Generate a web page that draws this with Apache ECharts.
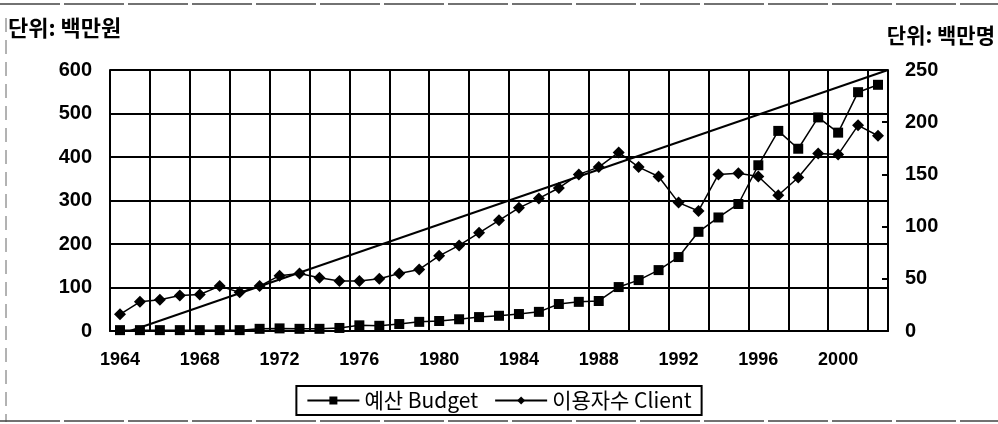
<!DOCTYPE html>
<html>
<head>
<meta charset="utf-8">
<script src="https://cdn.jsdelivr.net/npm/echarts@6/dist/echarts.min.js"></script>
<style>
html, body { margin: 0; padding: 0; background: #fff; }
#chart { width: 998px; height: 424px; }
</style>
</head>
<body>
<div id="chart"></div>
<script>
// years on the category axis
var years = [];
for (var y = 1964; y <= 2002; y++) years.push(String(y));

// 예산 Budget (left axis, 백만원)
var budget = [2, 2, 2, 2, 2, 2, 2, 5, 6, 5, 5, 7, 13, 12, 16, 21, 23, 27, 32, 35,
	39, 44, 62, 67, 69, 101, 117, 140, 170, 228, 261, 292, 381, 460, 419, 491, 456, 549, 566];

// 이용자수 Client (right axis, 백만명)
var client = [16, 28, 30, 34, 35, 43, 37, 43, 53, 55, 51, 48, 48, 50, 55, 59, 72, 82, 94, 106,
	118, 127, 137, 150, 157, 171, 157, 148, 123, 115, 150, 151, 148, 130, 147, 170, 169, 197, 187];

// straight trend line (year, left-axis value)
var trendLine = [[1964.5, 0], [2002.5, 600]];

var leftTicks = { min: 0, max: 600, interval: 100 };
var rightTicks = { min: 0, max: 250, interval: 50 };

var numFont = 'Liberation Sans';
var korFont = 'Noto Sans CJK KR';

var chart = echarts.init(document.getElementById('chart'));
chart.setOption({
	animation: false,
	backgroundColor: '#fff',
	grid: { left: 110, right: 110, top: 70, bottom: 93 },
	graphic: [
		{ type: 'line', shape: { x1: 0, y1: 4, x2: 998, y2: 4 }, style: { stroke: '#444', lineWidth: 1.5, lineDash: [60, 4] } },
		{ type: 'line', shape: { x1: 6, y1: 18, x2: 6, y2: 422 }, style: { stroke: '#666', lineWidth: 1, lineDash: [14, 8] } },
		{ type: 'line', shape: { x1: 0, y1: 421, x2: 998, y2: 421 }, style: { stroke: '#444', lineWidth: 1.5, lineDash: [60, 4] } },
		{ type: 'text', left: 8, top: 17, style: { text: '단위: 백만원', font: 'bold 22px "Noto Sans CJK KR"', fill: '#000' } },
		{ type: 'text', right: 3, top: 25, style: { text: '단위: 백만명', font: 'bold 21px "Noto Sans CJK KR"', fill: '#000' } }
	],
	legend: {
		data: ['예산 Budget', '이용자수 Client'],
		bottom: 9,
		left: 'center',
		itemWidth: 52,
		itemHeight: 10,
		itemGap: 16,
		padding: [4, 10],
		borderColor: '#000',
		borderWidth: 2,
		textStyle: { fontFamily: korFont, fontSize: 21, color: '#000' }
	},
	xAxis: [{
		type: 'category',
		data: years,
		boundaryGap: true,
		axisLine: { lineStyle: { color: '#000', width: 2 } },
		axisTick: { show: false },
		axisLabel: { interval: 3, color: '#000', fontFamily: numFont, fontSize: 18, fontWeight: 'bold', margin: 20 },
		splitLine: { show: true, interval: 1, lineStyle: { color: '#000', width: 2 } }
	}, {
		type: 'value',
		min: 1963.5,
		max: 2002.5,
		show: false
	}],
	yAxis: [{
		type: 'value',
		min: leftTicks.min,
		max: leftTicks.max,
		interval: leftTicks.interval,
		axisLine: { show: true, lineStyle: { color: '#000', width: 2 } },
		axisTick: { show: false },
		axisLabel: { color: '#000', fontFamily: numFont, fontSize: 20, fontWeight: 'bold', margin: 18 },
		splitLine: { show: true, lineStyle: { color: '#000', width: 2 } }
	}, {
		type: 'value',
		min: rightTicks.min,
		max: rightTicks.max,
		interval: rightTicks.interval,
		position: 'right',
		axisLine: { show: true, lineStyle: { color: '#000', width: 2 } },
		axisTick: { show: true, inside: true, length: 6, lineStyle: { color: '#000', width: 2 } },
		axisLabel: { color: '#000', fontFamily: numFont, fontSize: 20, fontWeight: 'bold', margin: 17 },
		splitLine: { show: false }
	}],
	series: [{
		name: '예산 Budget',
		type: 'line',
		data: budget,
		yAxisIndex: 0,
		symbol: 'rect',
		symbolSize: 10,
		itemStyle: { color: '#000' },
		lineStyle: { color: '#000', width: 1.5 },
		z: 4
	}, {
		name: '이용자수 Client',
		type: 'line',
		data: client,
		yAxisIndex: 1,
		symbol: 'diamond',
		symbolSize: 12,
		itemStyle: { color: '#000' },
		lineStyle: { color: '#000', width: 1.5 },
		z: 4
	}, {
		name: 'trend',
		type: 'line',
		data: trendLine,
		xAxisIndex: 1,
		yAxisIndex: 0,
		symbol: 'none',
		lineStyle: { color: '#000', width: 2 },
		silent: true,
		z: 3
	}]
});
</script>
</body>
</html>
